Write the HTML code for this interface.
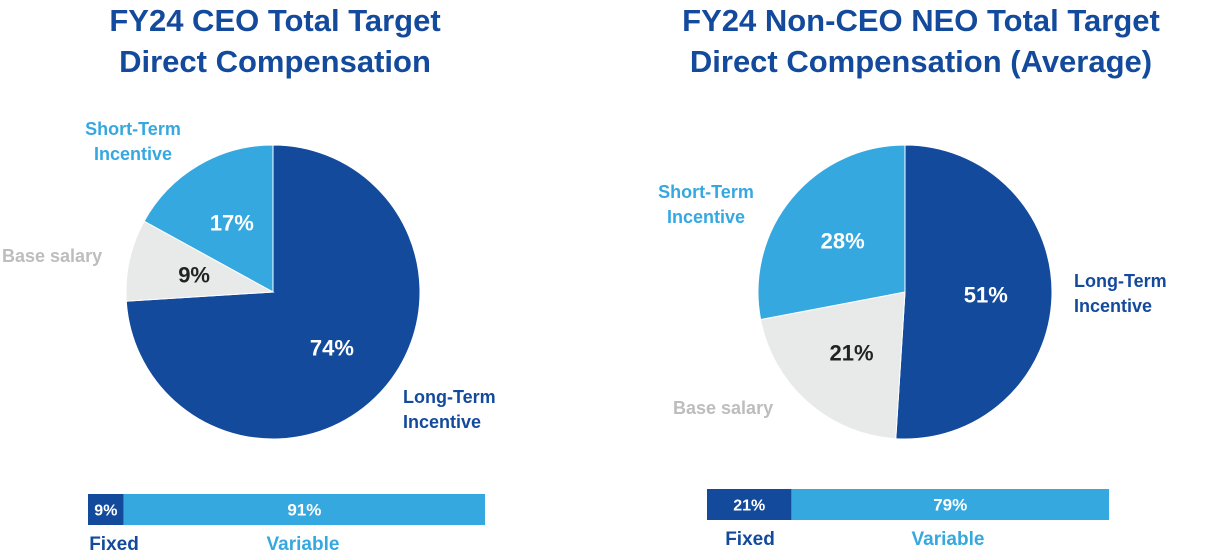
<!DOCTYPE html>
<html><head><meta charset="utf-8">
<style>
body{margin:0;background:#fff;}
svg{display:block;font-family:"Liberation Sans",Arial,sans-serif;font-weight:bold;}
</style></head>
<body>
<svg id="c" width="1206" height="558" viewBox="0 0 1206 558">
<text x="275" y="31" text-anchor="middle" font-size="31" fill="#134a9c">FY24 CEO Total Target</text>
<text x="275" y="72" text-anchor="middle" font-size="31" fill="#134a9c">Direct Compensation</text>
<text x="921" y="31" text-anchor="middle" font-size="31" fill="#134a9c">FY24 Non-CEO NEO Total Target</text>
<text x="921" y="72" text-anchor="middle" font-size="31" fill="#134a9c">Direct Compensation (Average)</text>
<g id="g"></g>
</svg>
<script>
const categories=["Long-Term Incentive","Base salary","Short-Term Incentive"];
const ceoValues=[74,9,17];
const neoValues=[51,21,28];
const ceoMix=[9,91];
const neoMix=[21,79];
const mixLabels=["Fixed","Variable"];
const colors=["#134a9c","#e8e9e9","#35a8e0"];
const labelColors=["#fff","#222","#fff"];
const ns="http://www.w3.org/2000/svg";
const g=document.getElementById("g");
function mk(t,a,txt){const e=document.createElementNS(ns,t);for(const k in a)e.setAttribute(k,a[k]);if(txt!==undefined)e.textContent=txt;g.appendChild(e);return e;}
function pie(cx,cy,r,vals,key){
  const tot=vals.reduce((a,b)=>a+b,0);let a0=0;
  vals.forEach((v,i)=>{
    const a1=a0+v/tot*2*Math.PI;
    const x0=cx+r*Math.sin(a0),y0=cy-r*Math.cos(a0),x1=cx+r*Math.sin(a1),y1=cy-r*Math.cos(a1);
    const p=mk("path",{d:`M${cx},${cy}L${x0},${y0}A${r},${r} 0 ${a1-a0>Math.PI?1:0} 1 ${x1},${y1}Z`,fill:colors[i],stroke:"#fff","stroke-width":1});
    
    
    const m=(a0+a1)/2,lr=r*0.55;
    const t=mk("text",{x:cx+lr*Math.sin(m),y:cy-lr*Math.cos(m)+8,"text-anchor":"middle","font-size":22,fill:labelColors[i]},v+"%");
    
    
    a0=a1;
  });
}
pie(273,292,147,ceoValues,"ceo");
pie(905,292,147,neoValues,"neo");
function lbl(x,y,lines,col,anchor,name){lines.forEach((s,i)=>{const t=mk("text",{x:x,y:y+i*25,"font-size":18,fill:col,"text-anchor":anchor},s);

});}
lbl(133,135,["Short-Term","Incentive"],"#35a8e0","middle","ceo-sti-label");
lbl(2,262,["Base salary"],"#bdbdbd","start","ceo-base-label");
lbl(403,403,["Long-Term","Incentive"],"#134a9c","start","ceo-lti-label");
lbl(706,198,["Short-Term","Incentive"],"#35a8e0","middle","neo-sti-label");
lbl(673,414,["Base salary"],"#bdbdbd","start","neo-base-label");
lbl(1074,287,["Long-Term","Incentive"],"#134a9c","start","neo-lti-label");
function bar(x,y,w,h,vals,key,lx){
  let cx=x;
  vals.forEach((v,i)=>{
    const bw=v/100*w;
    const r=mk("rect",{x:cx,y:y,width:bw,height:h,fill:i?"#35a8e0":"#134a9c"});
    
    
    const t=mk("text",{x:cx+bw/2,y:y+h/2+6,"text-anchor":"middle","font-size":i?17:16,fill:"#fff"},v+"%");
    
    
    cx+=bw;
  });
  const l0=mk("text",{x:lx[0],y:y+h+25,"text-anchor":"middle","font-size":19,fill:"#134a9c"},mixLabels[0]);
  
  
  const l1=mk("text",{x:lx[1],y:y+h+25,"text-anchor":"middle","font-size":19,fill:"#35a8e0"},mixLabels[1]);
  
  
}
bar(88,494,397,31,ceoMix,"ceo",[114,303]);
bar(707,489,402,31,neoMix,"neo",[750,948]);
</script>
</body></html>
